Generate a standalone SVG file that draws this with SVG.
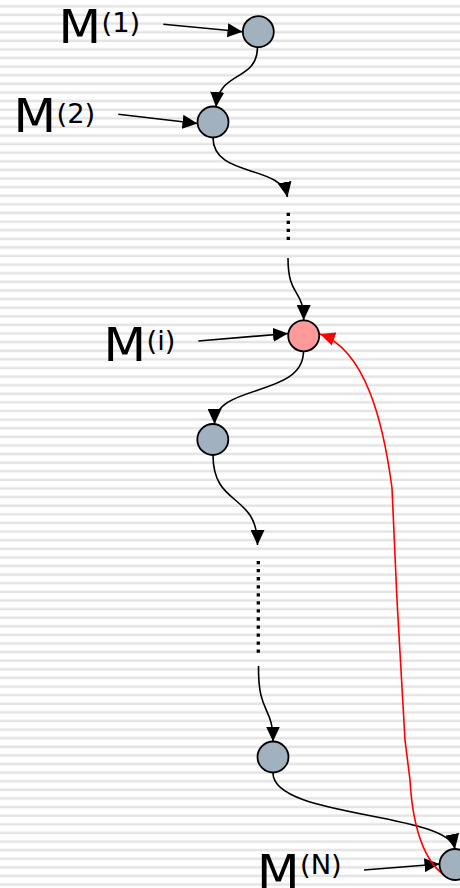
<svg xmlns="http://www.w3.org/2000/svg" width="460" height="888" viewBox="0 0 460 888">
<defs>
<pattern id="stripes" patternUnits="userSpaceOnUse" x="0" y="4.6" width="460" height="8.61">
<rect x="0" y="0" width="460" height="1" fill="#f1f1f1"/>
<rect x="0" y="1" width="460" height="2" fill="#e3e3e3"/>
</pattern>
<marker id="ah" markerUnits="userSpaceOnUse" viewBox="0 0 15 14" markerWidth="15" markerHeight="14" refX="15" refY="7" orient="auto">
<path d="M0,0 L15,7 L0,14 z" fill="#000"/>
</marker>
<marker id="ahr" markerUnits="userSpaceOnUse" viewBox="0 0 15 14" markerWidth="15" markerHeight="14" refX="15" refY="7" orient="auto">
<path d="M0,0 L15,7 L0,14 z" fill="#ff0000"/>
</marker>
</defs>
<style>
.m{font-family:"DejaVu Sans",Verdana,sans-serif;font-size:47px;fill:#000}
.s{font-family:"DejaVu Sans",Verdana,sans-serif;font-size:26px;fill:#000}
.node{fill:#a2b1bf;stroke:#000;stroke-width:1.8}
.hot{fill:#ff9a9a;stroke:#000;stroke-width:1.8}
.c{fill:none;stroke:#000;stroke-width:1.6}
.red{fill:none;stroke:#ff0000;stroke-width:1.6}
.dots{fill:none;stroke:#000;stroke-width:3.3}
</style>
<rect x="0" y="0" width="460" height="888" fill="#ffffff"/>
<rect x="0" y="0" width="460" height="888" fill="url(#stripes)"/>

<g id="labels">
<g id="label-1"><text class="m" transform="translate(58.5,43.3) scale(1.05,1)">M</text><text class="s" transform="translate(101.5,31.5) scale(1.05,1)">(1)</text></g>
<g id="label-2"><text class="m" transform="translate(13.5,132.3) scale(1.05,1)">M</text><text class="s" transform="translate(56.5,122.7) scale(1.05,1)">(2)</text></g>
<g id="label-i"><text class="m" transform="translate(103.5,361) scale(1.05,1)">M</text><text class="s" transform="translate(146.5,350) scale(1.05,1)">(i)</text></g>
<g id="label-N"><text class="m" transform="translate(256.9,887.5) scale(1.05,1)">M</text><text class="s" transform="translate(300,874.3) scale(1.05,1)">(N)</text></g>
</g>

<g id="connectors">
<line class="c" x1="163.3" y1="24.3" x2="242.5" y2="31.7" marker-end="url(#ah)"/>
<line class="c" x1="118.3" y1="114.3" x2="197.5" y2="123.5" marker-end="url(#ah)"/>
<line class="c" x1="198.3" y1="341" x2="288" y2="333.5" marker-end="url(#ah)"/>
<line class="c" x1="364" y1="870" x2="439.5" y2="864" marker-end="url(#ah)"/>
<path class="c" d="M257.5,47.5 C257,82 219,70 216,107" marker-end="url(#ah)"/>
<path class="c" d="M213,137.5 C213,178 281,164 287.5,197" marker-end="url(#ah)"/>
<line class="dots" x1="288.3" y1="212.7" x2="288.3" y2="240" stroke-dasharray="3.3 4.7"/>
<path class="c" d="M288,258 C288,298 303.7,288 303.7,320" marker-end="url(#ah)"/>
<path class="c" d="M303.5,351.5 C303,398 214.5,383 214.5,424" marker-end="url(#ah)"/>
<path class="c" d="M213,455 C213,508 257.5,492 257.5,545" marker-end="url(#ah)"/>
<line class="dots" x1="258.3" y1="561" x2="258.3" y2="653" stroke-dasharray="3.3 4.75"/>
<path class="c" d="M258.5,666 C258,715 273,705 273,741.5" marker-end="url(#ah)"/>
<path class="c" d="M273,773 C273,818 448,812 455,849" marker-end="url(#ah)"/>
<path class="red" d="M453,880 C428,870 413,835 410,780 L405,740 L397,600 L392,488 C383,420 365,350 320,334" marker-end="url(#ahr)"/>
</g>

<g id="node-1"><circle class="node" cx="258.3" cy="31.7" r="15.5"/></g>
<g id="node-2"><circle class="node" cx="213" cy="122" r="15.5"/></g>
<g id="node-i"><circle class="hot" cx="303.7" cy="335.8" r="15.5"/></g>
<g id="node-4"><circle class="node" cx="212.8" cy="439.5" r="15.5"/></g>
<g id="node-5"><circle class="node" cx="273" cy="757" r="15.5"/></g>
<g id="node-N"><circle class="node" cx="455" cy="864.5" r="15.5"/></g>
</svg>
